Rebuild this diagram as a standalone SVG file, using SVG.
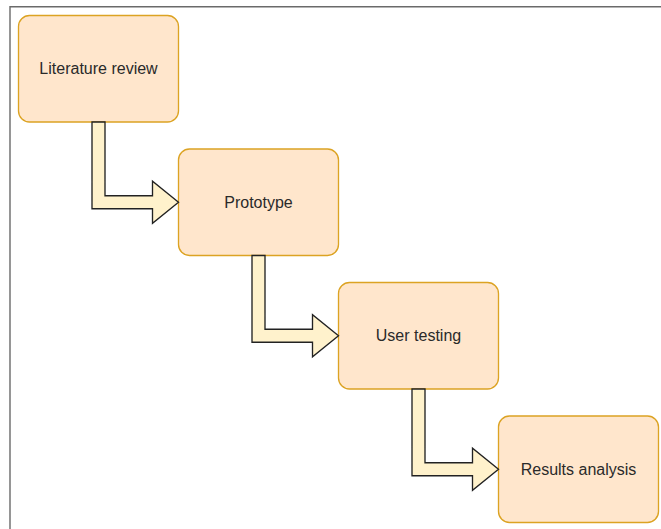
<svg xmlns="http://www.w3.org/2000/svg" width="661" height="529" viewBox="0 0 661 529">
  <style>
    .box { fill: #ffe6cc; stroke: #dca323; stroke-width: 1.33; }
    .lbl { font-family: "Liberation Sans", Arial, sans-serif; font-size: 16px; fill: #2a2a2a; text-anchor: middle; }
    .arrow { fill: #fff2cc; stroke: #222; stroke-width: 1.33; stroke-linejoin: miter; }
    .frame { fill: none; stroke: #6a6a6a; stroke-width: 1.4; }
  </style>
  <rect width="661" height="529" fill="#ffffff"/>
  <path class="frame" d="M10,529 L10,6.7 L661,6.7"/>
  <g id="node-literature-review">
    <rect class="box" x="18.5" y="15.5" width="160" height="106.5" rx="11" ry="11"/>
    <text class="lbl" x="98.5" y="74.3">Literature review</text>
  </g>
  <g id="node-prototype">
    <rect class="box" x="178.5" y="149" width="160" height="106.5" rx="11" ry="11"/>
    <text class="lbl" x="258.5" y="207.8">Prototype</text>
  </g>
  <g id="node-user-testing">
    <rect class="box" x="338.5" y="282.5" width="160" height="106.5" rx="11" ry="11"/>
    <text class="lbl" x="418.5" y="341.3">User testing</text>
  </g>
  <g id="node-results-analysis">
    <rect class="box" x="498.5" y="416" width="160" height="106.5" rx="11" ry="11"/>
    <text class="lbl" x="578.5" y="474.8">Results analysis</text>
  </g>
  <g id="connectors">
    <path class="arrow" d="M92,122 L105,122 L105,195.75 L152.5,195.75 L152.5,181.25 L178.5,202.25 L152.5,223.25 L152.5,208.75 L92,208.75 Z"/>
    <path class="arrow" d="M252,255.5 L265,255.5 L265,329.25 L312.5,329.25 L312.5,314.75 L338.5,335.75 L312.5,356.75 L312.5,342.25 L252,342.25 Z"/>
    <path class="arrow" d="M412,389 L425,389 L425,462.75 L472.5,462.75 L472.5,448.25 L498.5,469.25 L472.5,490.25 L472.5,475.75 L412,475.75 Z"/>
  </g>
</svg>
